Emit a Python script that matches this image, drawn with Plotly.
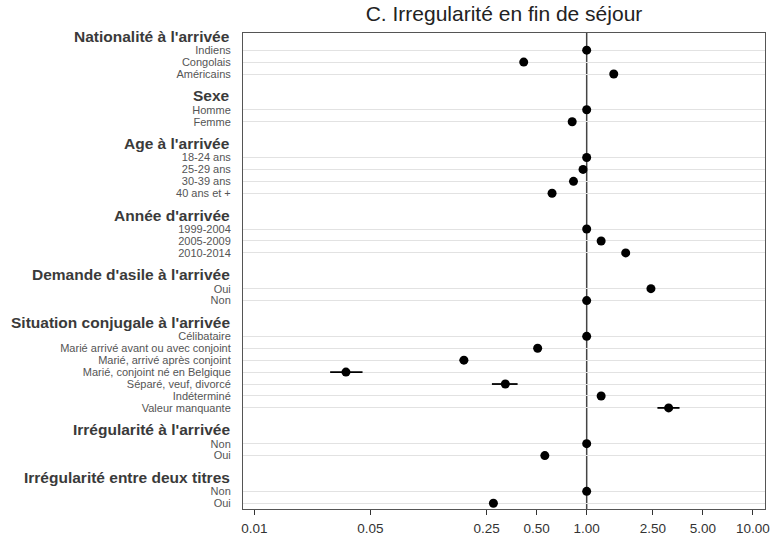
import plotly.graph_objects as go

# ---- data ----
groups = [
    "Nationalité à l'arrivée",
    "Sexe",
    "Age à l'arrivée",
    "Année d'arrivée",
    "Demande d'asile à l'arrivée",
    "Situation conjugale à l'arrivée",
    "Irrégularité à l'arrivée",
    "Irrégularité entre deux titres",
]
labels_nat = ["Indiens", "Congolais", "Américains"]
labels_sexe = ["Homme", "Femme"]
labels_age = ["18-24 ans", "25-29 ans", "30-39 ans", "40 ans et +"]
labels_annee = ["1999-2004", "2005-2009", "2010-2014"]
labels_asile = ["Oui", "Non"]
labels_conj = ["Célibataire", "Marié arrivé avant ou avec conjoint",
               "Marié, arrivé après conjoint", "Marié, conjoint né en Belgique",
               "Séparé, veuf, divorcé", "Indéterminé", "Valeur manquante"]
labels_irr_arr = ["Non", "Oui"]
labels_irr_deux = ["Non", "Oui"]

or_nat = [1.0, 0.418, 1.455]
or_sexe = [1.0, 0.818]
or_age = [1.0, 0.951, 0.833, 0.619]
or_annee = [1.0, 1.222, 1.717]
or_asile = [2.436, 1.0]
or_conj = [1.0, 0.507, 0.1825, 0.0356, 0.324, 1.222, 3.113]
or_irr_arr = [1.0, 0.560]
or_irr_deux = [1.0, 0.2746]

lo_conj = [1.0, 0.500, 0.172, 0.0286, 0.269, 1.222, 2.665]
hi_conj = [1.0, 0.515, 0.193, 0.0448, 0.384, 1.222, 3.62]

x_ticks = [0.01, 0.05, 0.25, 0.5, 1.0, 2.5, 5.0, 10.0]
x_ticktext = ["0.01", "0.05", "0.25", "0.50", "1.00", "2.50", "5.00", "10.00"]

title = "C. Irregularité en fin de séjour"

all_labels = [labels_nat, labels_sexe, labels_age, labels_annee, labels_asile,
              labels_conj, labels_irr_arr, labels_irr_deux]
all_or = [or_nat, or_sexe, or_age, or_annee, or_asile, or_conj, or_irr_arr, or_irr_deux]

# ---- build rows ----
ys, xs, lo, hi, tickvals, ticktext, header_rows = [], [], [], [], [], [], []
row = 0
for gi, (labs, vals) in enumerate(zip(all_labels, all_or)):
    header_rows.append(row)
    row += 1
    for j, (lab, v) in enumerate(zip(labs, vals)):
        ys.append(row)
        xs.append(v)
        if gi == 5:
            lo.append(v - lo_conj[j])
            hi.append(hi_conj[j] - v)
        else:
            lo.append(0)
            hi.append(0)
        tickvals.append(row)
        ticktext.append(lab)
        row += 1
    row += 1
last_row = ys[-1]

FONT = "Liberation Sans, Arial, sans-serif"

fig = go.Figure()
fig.add_trace(go.Scatter(
    x=xs, y=ys, mode="markers",
    marker=dict(color="black", size=9),
    error_x=dict(type="data", array=hi, arrayminus=lo, symmetric=False,
                 color="black", thickness=1.8, width=0),
    showlegend=False, hoverinfo="x+y",
))

fig.add_vline(x=1.0, line=dict(color="#444444", width=1.5), layer="below")

for g, r in zip(groups, header_rows):
    fig.add_annotation(
        x=0, xref="paper", y=r, yref="y", text="<b>" + g + "</b>",
        showarrow=False, xanchor="right", yanchor="middle", xshift=-11, yshift=2,
        font=dict(family=FONT, size=15.5, color="#3a3a3a"),
    )

fig.update_layout(
    width=774, height=535,
    margin=dict(l=243, r=9, t=33, b=26, autoexpand=False),
    paper_bgcolor="white", plot_bgcolor="white",
    title=dict(text=title, x=0.5, xref="paper", xanchor="center",
               y=0.988, yanchor="top",
               font=dict(family=FONT, size=21, color="#222222")),
    font=dict(family=FONT),
)
fig.update_xaxes(
    type="log", range=[-2.068, 1.073], automargin=False,
    tickvals=x_ticks, ticktext=x_ticktext,
    ticks="outside", ticklen=5, tickcolor="#333333", tickwidth=1,
    ticklabelstandoff=2,
    tickfont=dict(family=FONT, size=13.5, color="#333333"),
    showgrid=False, zeroline=False,
    showline=True, linecolor="#555555", linewidth=1, mirror=True,
)
fig.update_yaxes(
    range=[last_row + 0.48, -0.44], automargin=False,
    tickvals=tickvals, ticktext=ticktext,
    ticks="", ticklabelstandoff=9,
    tickfont=dict(family=FONT, size=11, color="#555555"),
    showgrid=True, gridcolor="#e2e2e2", gridwidth=1,
    zeroline=False,
    showline=True, linecolor="#555555", linewidth=1, mirror=True,
)

fig.write_html("out.html")
